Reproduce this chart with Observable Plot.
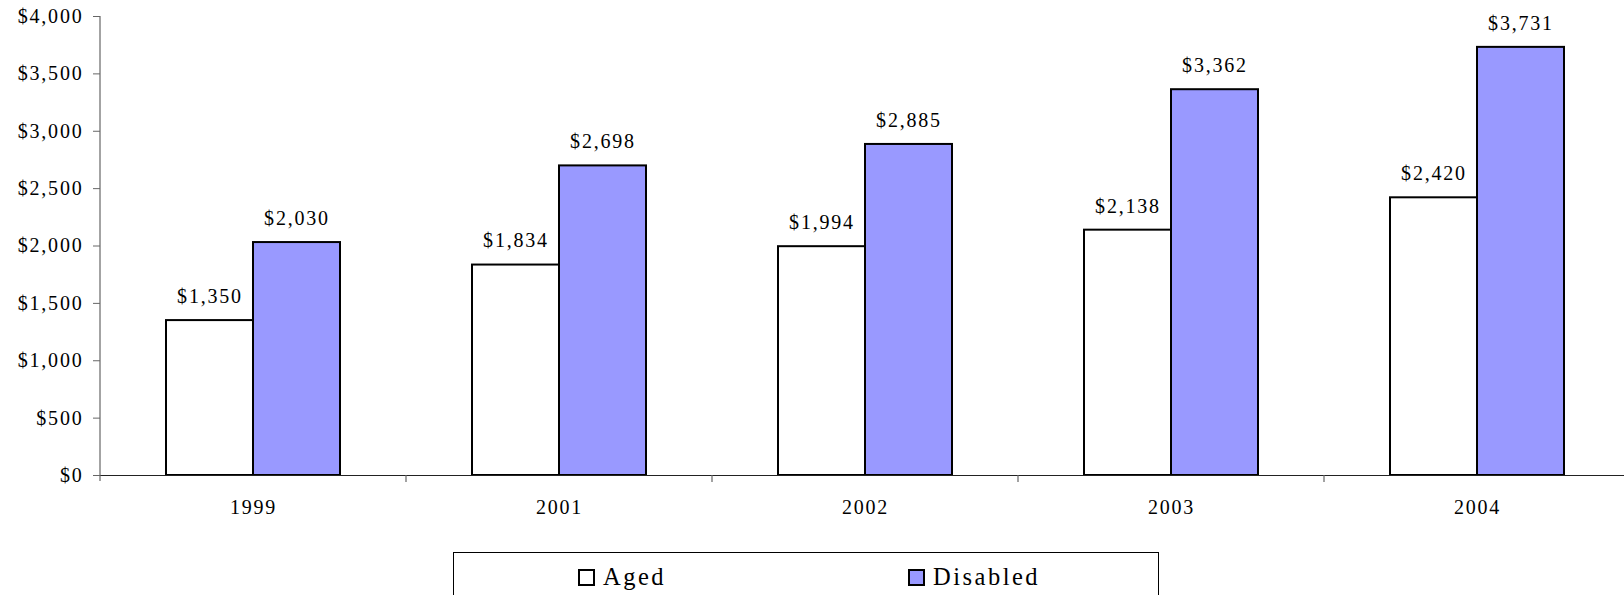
<!DOCTYPE html>
<html>
<head>
<meta charset="utf-8">
<script src="https://cdn.jsdelivr.net/npm/d3@7"></script>
<script src="https://cdn.jsdelivr.net/npm/@observablehq/plot@0.6"></script>
<style>
  html, body { margin: 0; padding: 0; background: #fff; }
  body { position: relative; width: 1624px; height: 595px; overflow: hidden; font-family: "Liberation Serif", "Times New Roman", serif; }
  #chart { position: absolute; left: 0; top: 0; width: 1624px; overflow: hidden; }
  #legend { position: absolute; left: 453px; top: 552px; width: 706px; height: 60px; border: 1px solid #000; box-sizing: border-box; background: #fff; }
  .item { position: absolute; top: 11px; display: flex; align-items: center; font-size: 24.5px; letter-spacing: 2.5px; color: #000; line-height: 26px; }
  .sw { width: 13px; height: 13px; border: 2px solid #000; margin-right: 8px; }
</style>
</head>
<body>
<div id="chart"></div>
<div id="legend"></div>
<script>
const years = ["1999", "2001", "2002", "2003", "2004"];
const series = ["Aged", "Disabled"];
const aged = [1350, 1834, 1994, 2138, 2420];
const disabled = [2030, 2698, 2885, 3362, 3731];
const yTicks = [0, 500, 1000, 1500, 2000, 2500, 3000, 3500, 4000];
const seriesColors = ["#ffffff", "#9999ff"];

const data = years.flatMap((yr, i) => [
  {year: yr, series: "Aged", value: aged[i]},
  {year: yr, series: "Disabled", value: disabled[i]}
]);
const fmt = d3.format("$,");

const plot = Plot.plot({
  width: 1624,
  height: 530,
  marginTop: 16,
  marginLeft: 100,
  marginRight: 0,
  marginBottom: 55,
  style: {fontFamily: "Liberation Serif, Times New Roman, serif", fontSize: "20px", letterSpacing: "1.8px", color: "#000", background: "transparent", overflow: "hidden"},
  fx: {domain: years, padding: 0, label: null, range: [100, 1630]},
  x: {domain: series, paddingInner: 0, paddingOuter: 0.749, axis: null},
  y: {domain: [0, 4000], label: null},
  color: {domain: series, range: seriesColors},
  marks: [
    Plot.barY(data, {fx: "year", x: "series", y: "value", fill: "series", stroke: "#000", strokeWidth: 2}),
    Plot.ruleY([0], {stroke: "#222", strokeWidth: 1.2}),
    Plot.text(data, {fx: "year", x: "series", y: "value", text: d => fmt(d.value), dy: -24, lineAnchor: "middle", fill: "#000"}),
    Plot.axisY({ticks: yTicks, tickSize: 7, tickPadding: 10, tickFormat: fmt, label: null, stroke: "#666"}),
    Plot.axisFx({anchor: "bottom", tickSize: 0, tickPadding: 24, label: null})
  ]
});

document.getElementById("chart").appendChild(plot);

// y-axis line and category boundary ticks, placed with the plot's own scales
const fx = plot.scale("fx");
const y = plot.scale("y");
const svg = d3.select(plot);
const g = svg.append("g").attr("stroke", "#666").attr("stroke-width", 1.2);
const x0 = fx.apply(years[0]);
g.append("line").attr("x1", x0).attr("x2", x0).attr("y1", y.apply(4000)).attr("y2", y.apply(0) + 6);
years.slice(1).forEach(yr => {
  const xb = fx.apply(yr);
  g.append("line").attr("x1", xb).attr("x2", xb).attr("y1", y.apply(0)).attr("y2", y.apply(0) + 7);
});

// legend
const legend = document.getElementById("legend");
const itemLeft = [124, 454];
series.forEach((s, i) => {
  const it = document.createElement("div");
  it.className = "item";
  it.style.left = itemLeft[i] + "px";
  const sw = document.createElement("div");
  sw.className = "sw";
  sw.style.background = seriesColors[i];
  it.appendChild(sw);
  it.appendChild(document.createTextNode(s));
  legend.appendChild(it);
});
</script>
</body>
</html>
